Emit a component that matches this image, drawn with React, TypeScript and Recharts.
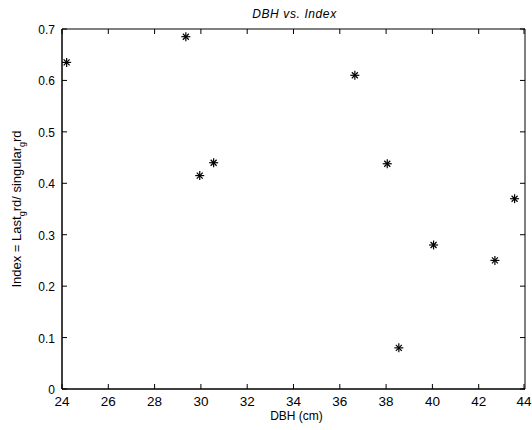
import React from 'react';
import { ScatterChart, Scatter, XAxis, YAxis, ReferenceArea } from 'recharts';

// DBH (cm) and index values
const dbh = [24.2, 29.35, 29.95, 30.55, 36.65, 38.05, 38.55, 40.05, 42.7, 43.55];
const indexVals = [0.635, 0.685, 0.415, 0.44, 0.61, 0.438, 0.08, 0.28, 0.25, 0.37];
const xTicks = [24, 26, 28, 30, 32, 34, 36, 38, 40, 42, 44];
const yTicks = [0, 0.1, 0.2, 0.3, 0.4, 0.5, 0.6, 0.7];

const data = dbh.map((d, i) => ({ dbh: d, index: indexVals[i] }));

const FONT = '"Liberation Sans", Arial, sans-serif';
const W = 532;
const H = 430;
const M = { top: 29, right: 7, bottom: 0, left: 0 };
const X_AXIS_H = 41;
const Y_AXIS_W = 62;
const PLOT_W = W - M.left - M.right - Y_AXIS_W;
const PLOT_H = H - M.top - M.bottom - X_AXIS_H;

// matlab style: ticks point inwards, on all four sides of the box
const BottomTick = (p: any) => (
    <g>
        <line x1={p.x} y1={p.y} x2={p.x} y2={p.y - 5} stroke="#000" />
        <line x1={p.x} y1={p.y - PLOT_H} x2={p.x} y2={p.y - PLOT_H + 5} stroke="#000" />
        <text x={p.x} y={p.y + 17} textAnchor="middle" fontSize={13.5} fontFamily={FONT} fill="#000">
            {p.payload.value}
        </text>
    </g>
);

const LeftTick = (p: any) => (
    <g>
        <line x1={p.x} y1={p.y} x2={p.x + 5} y2={p.y} stroke="#000" />
        <line x1={p.x + PLOT_W} y1={p.y} x2={p.x + PLOT_W - 5} y2={p.y} stroke="#000" />
        <text x={p.x - 7} y={p.y + 5} textAnchor="end" fontSize={12} fontFamily={FONT} fill="#000">
            {p.payload.value}
        </text>
    </g>
);

const Star = (p: any) => {
    const { cx, cy } = p;
    return (
        <g stroke="#000" strokeWidth={1.2}>
            <line x1={cx - 4.5} y1={cy} x2={cx + 4.5} y2={cy} />
            <line x1={cx} y1={cy - 4.5} x2={cx} y2={cy + 4.5} />
            <line x1={cx - 3} y1={cy - 3} x2={cx + 3} y2={cy + 3} />
            <line x1={cx - 3} y1={cy + 3} x2={cx + 3} y2={cy - 3} />
        </g>
    );
};

const XTitle = () => (
    <text x={Y_AXIS_W + PLOT_W / 2 + 3} y={420} textAnchor="middle" fontSize={12}
        fontFamily={FONT} fill="#000">
        DBH (cm)
    </text>
);

const YTitle = () => {
    const x = 21;
    const y = M.top + PLOT_H / 2;
    return (
        <text x={x} y={y} transform={`rotate(-90 ${x} ${y})`} textAnchor="middle"
            fontSize={13} fontFamily={FONT} fill="#000">
            Index = Last<tspan fontSize={9} dy={4}>g</tspan>
            <tspan dy={-4}>rd/ singular</tspan>
            <tspan fontSize={9} dy={4}>g</tspan>
            <tspan dy={-4}>rd</tspan>
        </text>
    );
};

const App = () => (
    <div style={{ position: 'absolute', left: 0, top: 0, width: W, height: H, background: '#fff' }}>
        <svg width={W} height={30} style={{ position: 'absolute', left: 0, top: 0 }}>
            <text x={Y_AXIS_W + PLOT_W / 2 + 1} y={18} textAnchor="middle" fontSize={12}
                fontStyle="italic" letterSpacing={0.6} fontFamily={FONT} fill="#000">
                DBH vs. Index
            </text>
        </svg>
        <div style={{ position: 'absolute', left: 0, top: 0 }}>
            <ScatterChart width={W} height={H} margin={M}>
                <XAxis type="number" dataKey="dbh" domain={[xTicks[0], xTicks[xTicks.length - 1]]}
                    ticks={xTicks} height={X_AXIS_H} tickSize={0} tickMargin={0} tickLine={false}
                    axisLine={{ stroke: '#000' }} tick={BottomTick} allowDataOverflow
                    label={{ content: XTitle }} />
                <YAxis type="number" dataKey="index" domain={[yTicks[0], yTicks[yTicks.length - 1]]}
                    ticks={yTicks} width={Y_AXIS_W} tickSize={0} tickMargin={0} tickLine={false}
                    axisLine={{ stroke: '#000' }} tick={LeftTick} allowDataOverflow
                    label={{ content: YTitle }} />
                <ReferenceArea x1={xTicks[0]} x2={xTicks[xTicks.length - 1]}
                    y1={yTicks[0]} y2={yTicks[yTicks.length - 1]}
                    fill="none" fillOpacity={0} stroke="#000" strokeWidth={1} />
                <Scatter data={data} shape={Star} isAnimationActive={false} />
            </ScatterChart>
        </div>
    </div>
);

export default App;
